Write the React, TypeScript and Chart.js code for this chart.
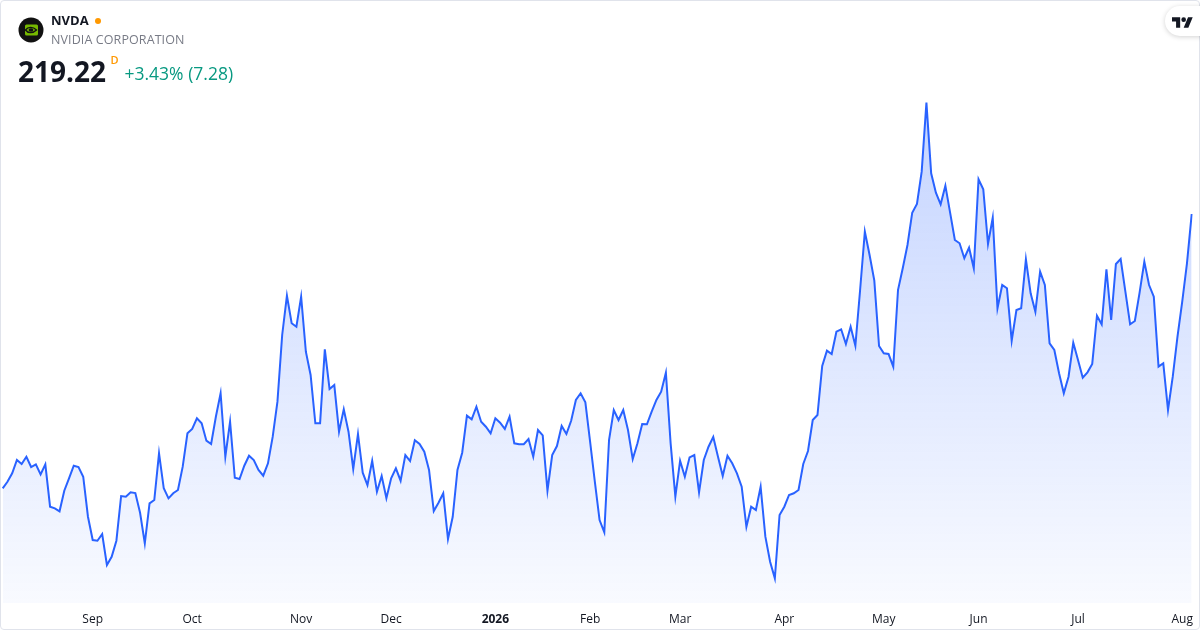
import React, { useEffect, useRef } from "react";
import { Chart, registerables } from "chart.js";

Chart.register(...registerables);

// ---- data ----
const startDate = "2025-08-05";
const endDate = "2026-08-05";
const marketHolidays = [
  "2025-09-01", "2025-11-27", "2025-12-25", "2026-01-01", "2026-01-19",
  "2026-02-16", "2026-04-03", "2026-05-25", "2026-06-19", "2026-07-03",
];
// month index 0..11 -> tick label (January shows the year)
const monthTickLabels = ["2026", "Feb", "Mar", "Apr", "May", "Jun", "Jul", "Aug", "Sep", "Oct", "Nov", "Dec"];

const closes = [
  178.71, 179.68, 180.92, 182.89, 182.30, 183.37, 181.85, 182.25, 180.77, 182.25,
  175.99, 175.75, 175.31, 178.35, 180.18, 182.04, 181.85, 180.42, 174.51, 171.07,
  170.97, 171.96, 167.38, 168.60, 170.97, 177.57, 177.47, 178.12, 178.01, 175.10,
  170.58, 176.49, 176.98, 183.88, 178.71, 177.23, 177.97, 178.46, 181.90, 186.83,
  187.47, 189.05, 188.31, 185.74, 185.25, 189.28, 192.74, 183.37, 188.54, 180.27,
  180.08, 182.04, 183.52, 182.89, 181.41, 180.57, 182.40, 186.33, 191.50, 201.35,
  207.15, 203.08, 202.57, 207.01, 198.88, 195.44, 188.31, 188.31, 199.24, 193.37,
  193.96, 187.07, 190.37, 187.07, 181.56, 186.73, 181.01, 179.19, 182.78, 178.20,
  180.52, 177.23, 180.18, 181.66, 179.83, 183.62, 182.74, 185.80, 185.25, 184.11,
  181.41, 175.35, 176.58, 177.97, 171.22, 174.51, 181.41, 183.96, 189.43, 188.90,
  190.76, 188.54, 187.80, 186.83, 189.05, 188.40, 187.47, 189.28, 185.35, 185.21,
  185.21, 185.99, 183.37, 187.32, 186.53, 178.35, 183.62, 184.95, 187.91, 186.73,
  188.69, 191.75, 192.74, 191.41, 185.59, 179.68, 174.02, 172.21, 185.84, 190.27,
  188.79, 190.27, 187.32, 183.03, 185.35, 188.20, 188.16, 190.02, 191.75, 192.97,
  195.78, 185.35, 177.47, 182.78, 180.42, 183.28, 183.62, 178.12, 182.89, 184.85,
  186.28, 183.37, 180.52, 183.52, 182.40, 180.92, 178.94, 173.03, 175.99, 175.50,
  178.94, 171.56, 167.86, 165.41, 174.76, 175.99, 177.72, 177.97, 178.46, 182.30,
  184.22, 188.79, 189.53, 196.77, 199.03, 198.54, 201.84, 202.19, 200.02, 202.57,
  199.77, 207.99, 216.61, 213.16, 209.37, 199.72, 198.65, 198.54, 196.67, 207.99,
  211.20, 214.64, 219.41, 220.70, 225.47, 235.66, 225.23, 222.37, 220.65, 223.40,
  219.41, 215.38, 214.89, 212.68, 214.24, 211.20, 224.35, 222.87, 214.79, 218.67,
  205.29, 208.73, 208.25, 200.51, 205.04, 205.29, 212.53, 207.51, 204.79, 210.70,
  208.73, 200.12, 199.13, 195.69, 192.74, 195.19, 200.21, 197.66, 195.04, 195.84,
  197.07, 204.20, 202.93, 211.05, 203.56, 211.84, 212.57, 207.74, 202.93, 203.42,
  207.60, 212.18, 208.73, 207.01, 196.67, 197.17, 190.27, 195.19, 201.10, 206.27,
  211.94, 219.22,
];

const yMin = 161.77;
const yMax = 237.53;

function tradingDays(): string[] {
  const out: string[] = [];
  const d = new Date(startDate + "T12:00:00Z");
  const end = new Date(endDate + "T12:00:00Z");
  while (d <= end) {
    const iso = d.toISOString().slice(0, 10);
    const wd = d.getUTCDay();
    if (wd !== 0 && wd !== 6 && !marketHolidays.includes(iso)) out.push(iso);
    d.setUTCDate(d.getUTCDate() + 1);
  }
  return out;
}

const FONT = "'Open Sans', 'Noto Sans', sans-serif";

export default function App() {
  const canvasRef = useRef<HTMLCanvasElement | null>(null);

  useEffect(() => {
    document.body.style.margin = "0";
    const canvas = canvasRef.current;
    if (!canvas) return;
    const dates = tradingDays();
    const tickText = (i: number): string | null => {
      const cur = dates[i];
      const prev = dates[i - 1];
      if (!cur || !prev) return null;
      if (cur.slice(5, 7) !== prev.slice(5, 7)) {
        return monthTickLabels[parseInt(cur.slice(5, 7), 10) - 1];
      }
      return null;
    };

    const chart = new Chart(canvas, {
      type: "line",
      data: {
        labels: dates,
        datasets: [
          {
            data: closes,
            borderColor: "#2962ff",
            borderWidth: 2,
            pointRadius: 0,
            pointHoverRadius: 0,
            tension: 0,
            fill: "start",
            backgroundColor: (ctx: any) => {
              const area = ctx.chart.chartArea;
              if (!area) return "rgba(41,98,255,0.15)";
              const g = ctx.chart.ctx.createLinearGradient(0, area.top, 0, area.bottom);
              g.addColorStop(0, "rgba(41,98,255,0.28)");
              g.addColorStop(1, "rgba(41,98,255,0.03)");
              return g;
            },
          },
        ],
      },
      options: {
        animation: false,
        responsive: false,
        maintainAspectRatio: false,
        layout: { padding: { left: 2.7, right: 8.3, top: 90, bottom: 0 } },
        plugins: { legend: { display: false }, tooltip: { enabled: false } },
        scales: {
          x: {
            type: "category",
            offset: false,
            grid: {
              display: true,
              color: "rgba(0,0,0,0)",
              drawOnChartArea: false,
              drawTicks: true,
              tickLength: 9,
            },
            border: { display: false },
            afterFit: (scale: any) => {
              scale.height = 27;
            },
            ticks: {
              autoSkip: false,
              maxRotation: 0,
              minRotation: 0,
              padding: 0,
              color: "#131722",
              font: (ctx: any) => ({
                family: FONT,
                size: 12,
                weight: ctx.tick && ctx.tick.label === "2026" ? "bold" : "normal",
              }),
              callback: (_v: any, i: number) => tickText(i),
            },
          },
          y: {
            display: false,
            min: yMin,
            max: yMax,
          },
        },
      },
    });
    return () => chart.destroy();
  }, []);

  return (
    <div
      style={{
        position: "fixed",
        left: 0,
        top: 0,
        width: 1200,
        height: 630,
        overflow: "hidden",
        background: "#ffffff",
        fontFamily: FONT,
      }}
    >
      <canvas
        ref={canvasRef}
        width={1200}
        height={630}
        style={{ position: "absolute", left: 0, top: 0, width: 1200, height: 630 }}
      />
      <div
        style={{
          position: "absolute",
          left: 0,
          top: 0,
          width: 1200,
          height: 630,
          boxSizing: "border-box",
          border: "1px solid #e0e3eb",
          borderRadius: 4,
          pointerEvents: "none",
        }}
      />
      {/* logo */}
      <svg
        width={26}
        height={26}
        viewBox="0 0 26 26"
        style={{ position: "absolute", left: 18, top: 17 }}
      >
        <circle cx={13} cy={13} r={12.5} fill="#111111" />
        <rect x={7} y={7.5} width={13} height={11} rx={1.5} fill="#76b900" />
        <path
          d="M7.5 13 C10 9.5 15 9.5 18.5 13 C15 16.5 10 16.5 7.5 13 Z"
          fill="none"
          stroke="#111111"
          strokeWidth={1.4}
        />
        <ellipse cx={13} cy={13} rx={2.4} ry={1.7} fill="#111111" />
      </svg>
      <div
        style={{
          position: "absolute",
          left: 51,
          top: 11,
          fontSize: 13,
          fontWeight: 700,
          color: "#131722",
          lineHeight: "18px",
        }}
      >
        NVDA
      </div>
      <div
        style={{
          position: "absolute",
          left: 94.5,
          top: 18,
          width: 6,
          height: 6,
          borderRadius: 3,
          background: "#ff9800",
        }}
      />
      <div
        style={{
          position: "absolute",
          left: 51,
          top: 31,
          fontSize: 12.5,
          color: "#787b86",
          lineHeight: "18px",
          letterSpacing: 0.1,
        }}
      >
        NVIDIA CORPORATION
      </div>
      <div
        style={{
          position: "absolute",
          left: 18,
          top: 53,
          fontSize: 28,
          fontWeight: 700,
          color: "#131722",
          lineHeight: "37px",
        }}
      >
        219.22
      </div>
      <div
        style={{
          position: "absolute",
          left: 110.5,
          top: 53,
          fontSize: 11,
          fontWeight: 600,
          color: "#ff9800",
          lineHeight: "14px",
        }}
      >
        D
      </div>
      <div
        style={{
          position: "absolute",
          left: 124.5,
          top: 61,
          fontSize: 17.5,
          color: "#089981",
          lineHeight: "24px",
        }}
      >
        +3.43% (7.28)
      </div>
      {/* TradingView badge */}
      <div
        style={{
          position: "absolute",
          left: 1165,
          top: 6,
          width: 60,
          height: 30,
          borderRadius: 15,
          background: "#ffffff",
          boxShadow: "0 1px 5px rgba(0,0,0,0.18)",
        }}
      >
        <svg
          width={21}
          height={12}
          viewBox="0 0 36 20"
          style={{ position: "absolute", left: 7, top: 10 }}
        >
          <path d="M14 20H7V9H0V2h14v18zM28 20h-8l7.5-18h8L28 20z" fill="#131722" />
          <circle cx={20} cy={6} r={4} fill="#131722" />
        </svg>
      </div>
    </div>
  );
}
